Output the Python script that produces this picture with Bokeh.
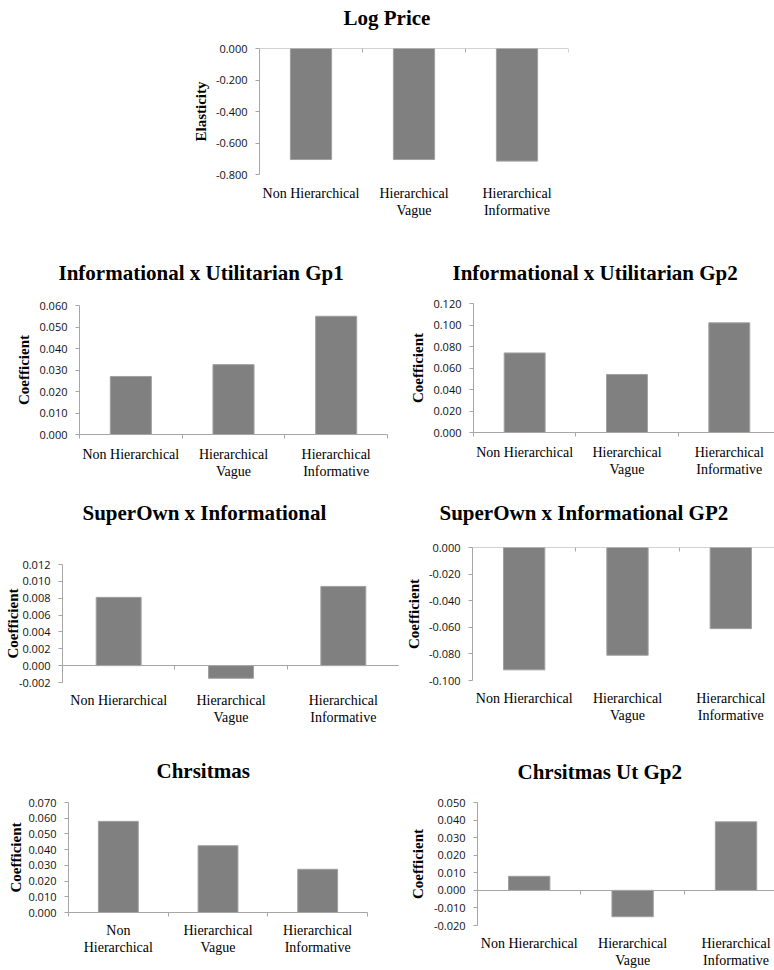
import numpy as np
from bokeh.plotting import figure
from bokeh.layouts import column, row
from bokeh.models import Range1d, FixedTicker, PrintfTickFormatter, LinearAxis, Title
from bokeh.embed import file_html
from bokeh.resources import INLINE

# ---------------- data ----------------
categories = ["Non Hierarchical", "Hierarchical Vague", "Hierarchical Informative"]
tick_labels = ["Non Hierarchical", "Hierarchical\nVague", "Hierarchical\nInformative"]
tick_labels_wrapped = ["Non\nHierarchical", "Hierarchical\nVague", "Hierarchical\nInformative"]

log_price = [-0.705, -0.705, -0.715]
info_util_gp1 = [0.027, 0.0325, 0.055]
info_util_gp2 = [0.074, 0.054, 0.102]
superown_info = [0.0081, -0.0015, 0.0094]
superown_info_gp2 = [-0.092, -0.081, -0.061]
christmas = [0.058, 0.0425, 0.0275]
christmas_ut_gp2 = [0.008, -0.015, 0.039]

yt_log_price = [-0.8, -0.6, -0.4, -0.2, 0.0]
yt_info_util_gp1 = [0.0, 0.01, 0.02, 0.03, 0.04, 0.05, 0.06]
yt_info_util_gp2 = [0.0, 0.02, 0.04, 0.06, 0.08, 0.10, 0.12]
yt_superown_info = [-0.002, 0.0, 0.002, 0.004, 0.006, 0.008, 0.010, 0.012]
yt_superown_info_gp2 = [-0.10, -0.08, -0.06, -0.04, -0.02, 0.0]
yt_christmas = [0.0, 0.01, 0.02, 0.03, 0.04, 0.05, 0.06, 0.07]
yt_christmas_ut_gp2 = [-0.02, -0.01, 0.0, 0.01, 0.02, 0.03, 0.04, 0.05]

# ---------------- style ----------------
BAR = "#808080"
BAR_EDGE = "#a0a0a0"
AXIS = "#a6a6a6"
SERIF = "Liberation Serif"
SANS = "Open Sans"


def make_chart(title, values, yticks, labels, ylabel, box, x_end,
               title_offset, title_gap, ylab_standoff, xlab_standoff=10):
    width, height, left, right, top, bottom = box
    n = len(values)
    xs = np.arange(n) + 0.5
    p = figure(width=width, height=height, output_backend="svg",
               toolbar_location=None,
               x_range=Range1d(0, x_end),
               y_range=Range1d(min(yticks), max(yticks)),
               x_axis_type=None, y_axis_type=None,
               min_border_left=left, min_border_right=right,
               min_border_top=top, min_border_bottom=bottom)
    p.frame_align = False
    p.outline_line_color = None
    p.background_fill_color = "white"
    p.border_fill_color = "white"

    p.vbar(x=xs, top=values, bottom=0, width=0.4,
           fill_color=BAR, line_color=BAR_EDGE, line_width=1)

    yaxis = LinearAxis(ticker=FixedTicker(ticks=yticks, minor_ticks=[]),
                       formatter=PrintfTickFormatter(format="%.3f"),
                       axis_label=ylabel)
    yaxis.axis_line_color = AXIS
    yaxis.major_tick_line_color = AXIS
    yaxis.major_tick_out = 4
    yaxis.major_tick_in = 0
    yaxis.minor_tick_line_color = None
    yaxis.major_label_standoff = 8
    yaxis.major_label_text_font = SANS
    yaxis.major_label_text_font_size = "11px"
    yaxis.major_label_text_color = "#111111"
    yaxis.axis_label_text_font = SERIF
    yaxis.axis_label_text_font_style = "bold"
    yaxis.axis_label_text_font_size = "15px"
    yaxis.axis_label_text_color = "black"
    yaxis.axis_label_standoff = ylab_standoff
    p.add_layout(yaxis, "left")

    has_neg = min(values) < 0
    boundaries = list(range(n + 1))
    xaxis = LinearAxis(ticker=FixedTicker(ticks=[float(x) for x in xs],
                                          minor_ticks=[] if has_neg else boundaries),
                       major_label_overrides={float(x): lab for x, lab in zip(xs, labels)})
    xaxis.axis_line_color = None if has_neg else AXIS
    xaxis.major_tick_line_color = None
    xaxis.major_tick_out = 0
    xaxis.major_tick_in = 0
    xaxis.minor_tick_line_color = AXIS
    xaxis.minor_tick_out = 4
    xaxis.minor_tick_in = 0
    xaxis.major_label_standoff = xlab_standoff
    xaxis.major_label_text_font = SERIF
    xaxis.major_label_text_font_size = "14px"
    xaxis.major_label_text_color = "black"
    xaxis.major_label_text_line_height = 1.15
    p.add_layout(xaxis, "below")

    if has_neg:
        zaxis = LinearAxis(fixed_location=0,
                           ticker=FixedTicker(ticks=[], minor_ticks=boundaries))
        zaxis.axis_line_color = AXIS
        zaxis.major_tick_line_color = None
        zaxis.minor_tick_line_color = AXIS
        zaxis.minor_tick_out = 4
        zaxis.minor_tick_in = 0
        zaxis.major_label_text_font_size = "0px"
        p.add_layout(zaxis, "below")

    # spacer between frame and title, then the title itself
    p.add_layout(Title(text=" ", text_font_size="1px", standoff=title_gap - 3), "above")
    p.add_layout(Title(text=title, align="left", offset=title_offset, standoff=0,
                       text_font=SERIF, text_font_style="bold",
                       text_font_size="21px", text_color="black"), "above")
    return p


fig1 = make_chart("Log Price", log_price, yt_log_price, tick_labels, "Elasticity",
                  (774, 240, 259, 206, 48, 66), 3, 84, 18.5, 4, 11)
fig2 = make_chart("Informational x Utilitarian Gp1", info_util_gp1, yt_info_util_gp1,
                  tick_labels, "Coefficient", (390, 244, 79, 3, 65, 50), 3,
                  -21, 20.5, 4, 8)
fig3 = make_chart("Informational x Utilitarian Gp2", info_util_gp2, yt_info_util_gp2,
                  tick_labels, "Coefficient", (384, 244, 83, 0, 63, 52), 2.942,
                  -21, 18.5, 4, 8)
fig4 = make_chart("SuperOwn x Informational", superown_info, yt_superown_info,
                  tick_labels, "Coefficient", (399, 246, 62, 0, 80, 48), 3,
                  20, 40, -5, 10)
fig5 = make_chart("SuperOwn x Informational GP2", superown_info_gp2, yt_superown_info_gp2,
                  tick_labels, "Coefficient", (375, 246, 73, 0, 63, 50), 2.923,
                  -33, 22.5, 4, 10)
fig6 = make_chart("Chrsitmas", christmas, yt_christmas, tick_labels_wrapped,
                  "Coefficient", (390, 240, 68, 23, 72, 58), 3, 88, 20, 1, 6)
fig7 = make_chart("Chrsitmas Ut Gp2", christmas_ut_gp2, yt_christmas_ut_gp2,
                  tick_labels, "Coefficient", (384, 240, 87, 0, 72, 42), 2.872,
                  40, 19, 5, 10)

layout = column(fig1, row(fig2, fig3), row(fig4, fig5), row(fig6, fig7))

with open("out.html", "w") as f:
    f.write(file_html(layout, INLINE))
